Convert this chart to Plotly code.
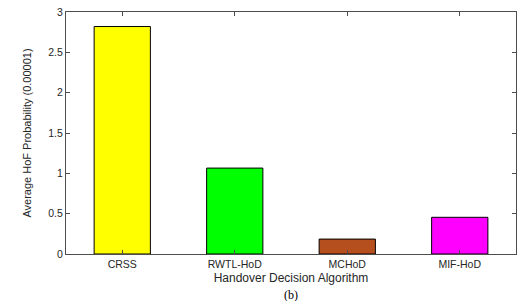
import plotly.graph_objects as go

categories = ["CRSS", "RWTL-HoD", "MCHoD", "MIF-HoD"]
values = [2.82, 1.065, 0.185, 0.455]
colors = ["#ffff00", "#00ff00", "#b5501e", "#ff00ff"]
y_ticks = [0, 0.5, 1, 1.5, 2, 2.5, 3]
y_labels = ["0", "0.5", "1", "1.5", "2", "2.5", "3"]

fig = go.Figure()
fig.add_trace(go.Bar(
    x=list(range(1, len(categories) + 1)), y=values, width=0.5,
    marker=dict(color=colors, line=dict(color="#000000", width=1)),
))

axis_color = "#4d4d4d"
fig.update_layout(
    width=523, height=301,
    margin=dict(l=66, r=7, t=12, b=47),
    paper_bgcolor="white", plot_bgcolor="white",
    showlegend=False,
    font=dict(family="Liberation Sans, Arial", size=10, color="#262626"),
    xaxis=dict(
        range=[0.5, 4.5], tickvals=[1, 2, 3, 4], ticktext=categories,
        ticks="inside", ticklen=4, tickcolor=axis_color,
        showline=True, linecolor=axis_color, linewidth=1, mirror="ticks",
        showgrid=False, zeroline=False,
        title=dict(text="Handover Decision Algorithm", font=dict(size=12), standoff=5),
        tickfont=dict(size=10.5),
    ),
    yaxis=dict(
        range=[0, 3], tickvals=y_ticks, ticktext=y_labels,
        ticks="inside", ticklen=4, tickcolor=axis_color,
        showline=True, linecolor=axis_color, linewidth=1, mirror="ticks",
        showgrid=False, zeroline=False,
        title=dict(text="Average HoF Probability (0.00001)", font=dict(size=11), standoff=14),
        tickfont=dict(size=10.5),
    ),
)
fig.add_annotation(
    text="(b)", x=0.5, y=-32 / 242, xref="paper", yref="paper",
    xanchor="center", yanchor="top", showarrow=False,
    font=dict(family="Liberation Serif, Times New Roman", size=12, color="#000000"),
)
fig.write_html("out.html")
